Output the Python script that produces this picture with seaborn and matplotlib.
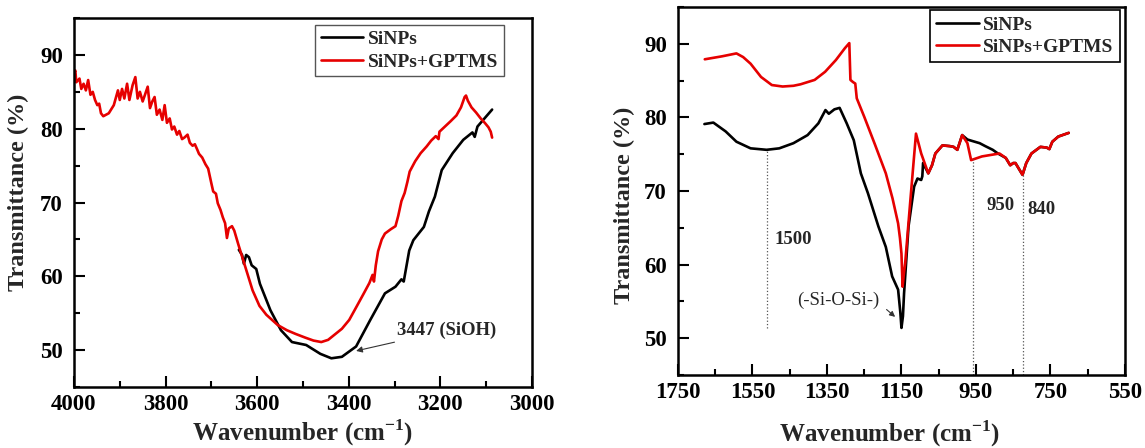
import matplotlib
matplotlib.use("Agg")
import matplotlib.pyplot as plt
import seaborn as sns
from matplotlib.ticker import MultipleLocator, FixedLocator

# ---- left panel (3000-4000 cm-1) ----
left_wn_gptms = [4000, 3997, 3995, 3988, 3984, 3979, 3974, 3969, 3964, 3959, 3954, 3949, 3945,
                 3941, 3936, 3924, 3913, 3904, 3900, 3895, 3890, 3884, 3879, 3872, 3866, 3861,
                 3856, 3850, 3845, 3839, 3834, 3829, 3824, 3819, 3813, 3807, 3802, 3797, 3791,
                 3786, 3781, 3775, 3770, 3764, 3759, 3752, 3747, 3741, 3736, 3731, 3727, 3720,
                 3713, 3707, 3700, 3696, 3690, 3686, 3680, 3675, 3670, 3666, 3662, 3655, 3650,
                 3641, 3626, 3610, 3595, 3580, 3555, 3535, 3516, 3495, 3477, 3460, 3445, 3431,
                 3415, 3399, 3383, 3368, 3355, 3348, 3345, 3341, 3336, 3328, 3321, 3308, 3298,
                 3292, 3285, 3278, 3272, 3267, 3255, 3243, 3230, 3220, 3210, 3204, 3202, 3190,
                 3178, 3165, 3155, 3147, 3144, 3140, 3132, 3122, 3112, 3103, 3095, 3090, 3087]
left_t_gptms = [87.6, 87.9, 86.3, 86.8, 85.4, 86.1, 85.2, 86.6, 84.6, 85.0, 83.9, 83.2, 83.4,
                82.1, 81.7, 82.1, 83.2, 85.2, 83.9, 85.4, 84.1, 86.1, 83.9, 85.9, 87.0, 84.1,
                85.0, 83.7, 84.6, 85.7, 82.8, 83.7, 84.3, 81.9, 82.6, 81.2, 83.2, 80.8, 81.4,
                79.9, 80.3, 79.2, 79.7, 78.6, 78.8, 79.2, 78.1, 77.7, 77.9, 77.2, 76.6, 76.1,
                75.2, 74.6, 72.6, 71.5, 71.2, 69.9, 69.0, 68.0, 67.2, 65.2, 66.5, 66.8, 66.2,
                64.3, 61.3, 58.1, 56.0, 54.8, 53.4, 52.7, 52.2, 51.7, 51.3, 51.1, 51.4, 52.1,
                52.9, 54.1, 55.9, 57.6, 59.1, 60.2, 59.3, 61.5, 63.4, 65.0, 65.8, 66.4, 66.8,
                68.2, 70.2, 71.3, 72.8, 74.2, 75.6, 76.7, 77.6, 78.4, 79.0, 78.6, 79.6, 80.3,
                81.0, 81.8, 82.9, 84.3, 84.5, 83.8, 82.9, 82.2, 81.4, 80.8, 80.2, 79.6, 78.8]

left_wn_sinps = [3640, 3633, 3629, 3624, 3618, 3612, 3602, 3594, 3571, 3548, 3524, 3493, 3462,
                 3438, 3415, 3384, 3353, 3321, 3298, 3285, 3280, 3278, 3268, 3259, 3236, 3225,
                 3212, 3197, 3173, 3150, 3130, 3125, 3119, 3087]
left_t_sinps = [63.6, 62.9, 61.7, 62.9, 62.6, 61.5, 61.0, 59.0, 55.4, 52.7, 51.1, 50.7, 49.5,
                48.9, 49.1, 50.5, 54.1, 57.7, 58.6, 59.6, 59.3, 60.0, 63.5, 64.9, 66.7, 68.8,
                70.8, 74.4, 76.7, 78.5, 79.5, 78.9, 80.3, 82.6]

# ---- right panel (550-1750 cm-1) ----
right_wn_gptms = [1678, 1655, 1632, 1593, 1575, 1555, 1527, 1498, 1469, 1440, 1421, 1383, 1355,
                  1326, 1302, 1290, 1287, 1280, 1274, 1270, 1250, 1221, 1192, 1174, 1159, 1154,
                  1150, 1147, 1143, 1140, 1126, 1111, 1097, 1078, 1068, 1059, 1040, 1020, 1010,
                  1000, 987, 973, 963, 934, 887, 870, 858, 850, 844, 825, 815, 801, 777, 760,
                  753, 745, 729, 701]
right_t_gptms = [87.9, 88.1, 88.3, 88.7, 88.2, 87.3, 85.5, 84.4, 84.2, 84.3, 84.5, 85.1, 86.2,
                 87.8, 89.4, 90.1, 85.1, 84.8, 84.6, 82.6, 80.1, 76.3, 72.4, 69.0, 65.6, 63.6,
                 61.5, 57.0, 59.0, 60.2, 68.8, 77.8, 75.1, 72.4, 73.5, 75.1, 76.2, 76.1, 76.0,
                 75.6, 77.6, 76.5, 74.2, 74.7, 75.1, 74.5, 73.5, 73.8, 73.8, 72.2, 73.8, 75.1,
                 76.0, 75.9, 75.7, 76.7, 77.4, 77.9]

right_wn_sinps = [1679, 1655, 1622, 1593, 1555, 1512, 1478, 1440, 1402, 1373, 1354, 1345, 1330,
                  1316, 1297, 1278, 1259, 1240, 1212, 1192, 1175, 1159, 1153, 1150, 1146, 1143,
                  1131, 1116, 1107, 1097, 1094, 1092, 1078, 1068, 1059, 1040, 1020, 1010, 1000,
                  987, 973, 960, 940, 925, 905, 891, 870, 858, 850, 844, 825, 815, 801, 777,
                  760, 753, 745, 729, 701]
right_t_sinps = [79.1, 79.3, 78.1, 76.7, 75.8, 75.6, 75.8, 76.5, 77.6, 79.2, 81.0, 80.5, 81.1,
                 81.3, 79.2, 76.9, 72.4, 69.7, 65.2, 62.4, 58.4, 56.6, 53.5, 51.4, 53.0, 56.1,
                 65.2, 70.6, 71.7, 71.5, 72.0, 73.8, 72.4, 73.5, 75.1, 76.2, 76.1, 76.0, 75.6,
                 77.6, 77.0, 76.8, 76.5, 76.1, 75.6, 75.1, 74.5, 73.5, 73.8, 73.8, 72.2, 73.8,
                 75.1, 76.0, 75.9, 75.7, 76.7, 77.4, 77.9]

right_xticks = [1750, 1550, 1350, 1150, 950, 750, 550]
right_xminor = [1650, 1450, 1250, 1050, 850, 650]

# marked bands on the right panel: (wavenumber, top, bottom)
band_lines = [(1511, 75.6, 51.4), (958, 74.3, 45.0), (825, 72.2, 45.0)]
band_labels = [(1492, 63.4, "1500"), (923, 68.1, "950"), (813, 67.5, "840")]

RED = "#e60000"
BLACK = "#000000"

sns.set_style("ticks")
plt.rcParams['font.family'] = ['Liberation Serif', 'DejaVu Serif']
plt.rcParams['font.weight'] = 'bold'
plt.rcParams['mathtext.fontset'] = 'custom'
plt.rcParams['mathtext.rm'] = 'Liberation Serif:bold'
plt.rcParams['mathtext.bf'] = 'Liberation Serif:bold'

fig = plt.figure(figsize=(11.45, 4.48), dpi=100)
ax1 = fig.add_axes([0.0646, 0.136, 0.400, 0.8237])
ax2 = fig.add_axes([0.5921, 0.1629, 0.3904, 0.8214])


def style_axes(ax):
    ax.set_ylim(45, 95)
    ax.yaxis.set_major_locator(MultipleLocator(10))
    ax.yaxis.set_minor_locator(MultipleLocator(5))
    ax.tick_params(which='both', direction='in', top=False, right=False,
                   width=1.5, colors='black', labelsize=16.5)
    ax.tick_params(axis='x', pad=5)
    ax.tick_params(axis='y', pad=8)
    ax.tick_params(which='major', length=8)
    ax.tick_params(which='minor', length=4.5)
    for sp in ax.spines.values():
        sp.set_linewidth(1.8)
        sp.set_color('black')
    ax.set_ylabel("Transmittance (%)", fontsize=17.5, fontweight='bold')
    ax.set_xlabel(r"Wavenumber (cm$^{\mathbf{-1}}$)", fontsize=18, fontweight='bold')


# left panel
sns.lineplot(x=left_wn_sinps, y=left_t_sinps, ax=ax1, color=BLACK, lw=1.9,
             label="SiNPs", estimator=None, sort=False)
sns.lineplot(x=left_wn_gptms, y=left_t_gptms, ax=ax1, color=RED, lw=1.9,
             label="SiNPs+GPTMS", estimator=None, sort=False)
style_axes(ax1)
ax1.set_xlim(4000, 3000)
ax1.xaxis.set_major_locator(MultipleLocator(200))
ax1.xaxis.set_minor_locator(MultipleLocator(100))
ax1.xaxis.set_label_coords(0.499, -0.082)
ax1.yaxis.set_label_coords(-0.0975, 0.528)
ax1.annotate("3447 (SiOH)", xy=(3384, 49.9), xytext=(3294, 52.7),
             fontsize=13.5, fontweight='bold', va='center', ha='left',
             arrowprops=dict(arrowstyle='-|>', lw=0.8, color='#333333',
                             mutation_scale=9, shrinkA=0, shrinkB=0))
leg1 = ax1.legend(loc='upper right', bbox_to_anchor=(0.940, 0.982), frameon=True,
                  fancybox=False, edgecolor='#555555', framealpha=1, fontsize=14,
                  handlelength=2.2, handletextpad=0.25, borderpad=0.3,
                  labelspacing=0.25, borderaxespad=0)
leg1.get_frame().set_linewidth(1.0)

# right panel
sns.lineplot(x=right_wn_sinps, y=right_t_sinps, ax=ax2, color=BLACK, lw=1.9,
             label="SiNPs", estimator=None, sort=False)
sns.lineplot(x=right_wn_gptms, y=right_t_gptms, ax=ax2, color=RED, lw=1.9,
             label="SiNPs+GPTMS", estimator=None, sort=False)
style_axes(ax2)
ax2.set_xlim(1750, 550)
ax2.xaxis.set_major_locator(FixedLocator(right_xticks))
ax2.xaxis.set_minor_locator(FixedLocator(right_xminor))
ax2.xaxis.set_label_coords(0.473, -0.118)
ax2.yaxis.set_label_coords(-0.095, 0.4615)

for wn, top, bottom in band_lines:
    ax2.vlines(wn, bottom, top, colors='#555555', linestyles=':', lw=0.9)
for wn, t, txt in band_labels:
    ax2.text(wn, t, txt, fontsize=13.5, fontweight='bold', ha='left', va='center')
ax2.text(1319, 55.2, "(-Si-O-Si-)", fontsize=13.5, fontweight='normal',
         va='center', ha='center')
ax2.annotate("", xy=(1167, 52.9), xytext=(1190, 53.9),
             arrowprops=dict(arrowstyle='-|>', lw=0.8, color='#333333',
                             mutation_scale=8, shrinkA=0, shrinkB=0))
leg2 = ax2.legend(loc='upper right', bbox_to_anchor=(0.988, 0.991), frameon=True,
                  fancybox=False, edgecolor='black', framealpha=1, fontsize=14,
                  handlelength=2.2, handletextpad=0.25, borderpad=0.3,
                  labelspacing=0.25, borderaxespad=0)
leg2.get_frame().set_linewidth(1.2)

fig.savefig("out.png", dpi=100)
